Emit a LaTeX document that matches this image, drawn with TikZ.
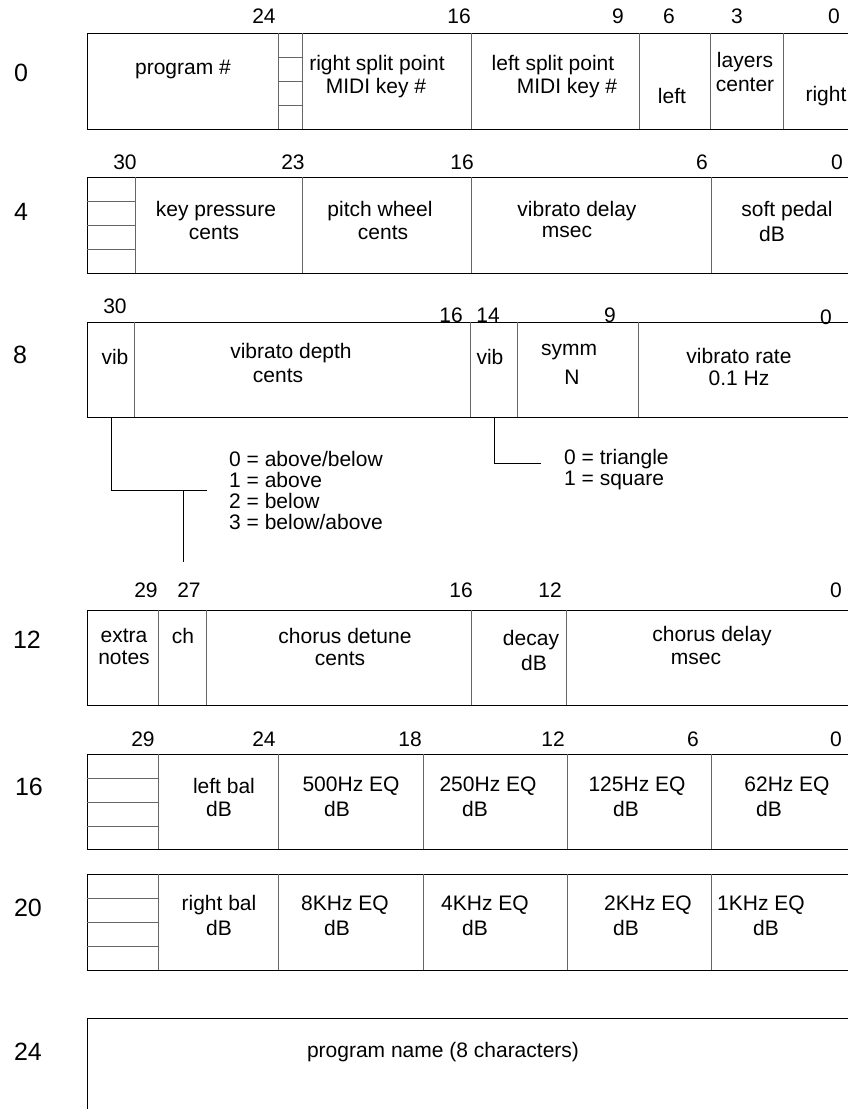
\documentclass[tikz,border=0pt]{standalone}
\usepackage{fontspec}
\setmainfont{Liberation Sans}
\tikzset{
  frame/.style={draw=black, line width=1pt},
  cut/.style={draw=black!60, line width=0.8pt},
  txt/.style={inner sep=0pt, font=\fontsize{21}{22}\selectfont},
  bitno/.style={inner sep=0pt, font=\fontsize{21}{22}\selectfont},
  wordno/.style={inner sep=0pt, font=\fontsize{25}{27}\selectfont},
  lead/.style={draw=black, line width=0.8pt}
}

\begin{document}
\begin{tikzpicture}[x=1pt, y=-1pt]
\useasboundingbox (0,0) rectangle (847,1109);
% Word 0
\node[wordno] (w0) at (21,73) {0};
\node[bitno] (w0b24) at (264,16) {24}; \node[bitno] (w0b16) at (459,16) {16};
\node[bitno] (w0b9) at (618,16) {9}; \node[bitno] (w0b6) at (669,16) {6};
\node[bitno] (w0b3) at (737,16) {3}; \node[bitno] (w0b0) at (834,16) {0};
\draw[frame] (87,33) rectangle (860,129);
\foreach \x in {278,302,471,639,710,783} \draw[cut] (\x,33) -- (\x,129);
\foreach \y in {57,81,105} \draw[cut] (278,\y) -- (302,\y);
\node[txt] (prog) at (183,69) {program \#};
\node[txt] (rsplit) at (377,65) {right split point}; \node[txt] (rkey) at (376,88) {MIDI key \#};
\node[txt] (lsplit) at (553,65) {left split point}; \node[txt] (lkey) at (567,88) {MIDI key \#};
\node[txt] (left) at (672,96) {left};
\node[txt] (layers) at (745,62) {layers}; \node[txt] (center) at (745,85) {center};
\node[txt] (right) at (826,96) {right};

% Word 4
\node[wordno] (w4) at (21,212) {4};
\node[bitno] (w4b30) at (125,162) {30}; \node[bitno] (w4b23) at (293,162) {23};
\node[bitno] (w4b16) at (462,162) {16}; \node[bitno] (w4b6) at (702,162) {6};
\node[bitno] (w4b0) at (837,162) {0};
\draw[frame] (87,177) rectangle (860,273);
\foreach \x in {135,302,471,711} \draw[cut] (\x,177) -- (\x,273);
\foreach \y in {201,225,249} \draw[cut] (87,\y) -- (135,\y);
\node[txt] (keyp) at (216,211) {key pressure}; \node[txt] (keypu) at (214,233) {cents};
\node[txt] (pwheel) at (380,211) {pitch wheel}; \node[txt] (pwheelu) at (383,233) {cents};
\node[txt] (vdelay) at (577,211) {vibrato delay}; \node[txt] (vdelayu) at (567,232) {msec};
\node[txt] (soft) at (787,211) {soft pedal}; \node[txt] (softu) at (772,234) {dB};

% Word 8
\node[wordno] (w8) at (20,355) {8};
\node[bitno] (w8b30) at (115,306) {30}; \node[bitno] (w8b16) at (451,315) {16};
\node[bitno] (w8b14) at (488,315) {14}; \node[bitno] (w8b9) at (610,315) {9};
\node[bitno] (w8b0) at (826,317) {0};
\draw[frame] (87,322) rectangle (860,417);
\foreach \x in {134,470,517,638} \draw[cut] (\x,322) -- (\x,417);
\node[txt] (vibmode) at (115,357) {vib};
\node[txt] (vdepth) at (291,353) {vibrato depth}; \node[txt] (vdepthu) at (278,376) {cents};
\node[txt] (vibwave) at (490,357) {vib};
\node[txt] (symm) at (569,352) {symm}; \node[txt] (symmu) at (572,377) {N};
\node[txt] (vrate) at (739,356) {vibrato rate}; \node[txt] (vrateu) at (739,378) {0.1 Hz};
\coordinate (modefoot) at (111,417); \coordinate (modeend) at (207,490);
\coordinate (modejoin) at (183,490); \coordinate (modetail) at (183,562);
\coordinate (wavefoot) at (494,417); \coordinate (waveend) at (541,463);
\draw[lead] (modefoot) |- (modeend);
\draw[lead] (modejoin) -- (modetail);
\draw[lead] (wavefoot) |- (waveend);
\node[txt, anchor=west] (mode0) at (229,459) {0 = above/below};
\node[txt, anchor=west] (mode1) at (229,480) {1 = above};
\node[txt, anchor=west] (mode2) at (229,501) {2 = below};
\node[txt, anchor=west] (mode3) at (229,522) {3 = below/above};
\node[txt, anchor=west] (wave0) at (564,459) {0 = triangle};
\node[txt, anchor=west] (wave1) at (564,480) {1 = square};

% Word 12
\node[wordno] (w12) at (27,640) {12};
\node[bitno] (w12b29) at (146,590) {29}; \node[bitno] (w12b27) at (189,590) {27};
\node[bitno] (w12b16) at (461,590) {16}; \node[bitno] (w12b12) at (550,590) {12};
\node[bitno] (w12b0) at (836,590) {0};
\draw[frame] (87,610) rectangle (860,705);
\foreach \x in {158,206,471,566} \draw[cut] (\x,610) -- (\x,705);
\node[txt] (extra) at (124,636) {extra}; \node[txt] (notes) at (124,658) {notes};
\node[txt] (ch) at (183,636) {ch};
\node[txt] (cdetune) at (345,636) {chorus detune}; \node[txt] (cdetuneu) at (340,659) {cents};
\node[txt] (decay) at (531,640) {decay}; \node[txt] (decayu) at (534,663) {dB};
\node[txt] (cdelay) at (712,636) {chorus delay}; \node[txt] (cdelayu) at (696,659) {msec};

% Word 16
\node[wordno] (w16) at (29,787) {16};
\node[bitno] (w16b29) at (143,739) {29}; \node[bitno] (w16b24) at (264,739) {24};
\node[bitno] (w16b18) at (410,739) {18}; \node[bitno] (w16b12) at (553,739) {12};
\node[bitno] (w16b6) at (693,739) {6}; \node[bitno] (w16b0) at (836,739) {0};
\draw[frame] (87,754) rectangle (860,849);
\foreach \x in {158,278,423,567,711} \draw[cut] (\x,754) -- (\x,849);
\foreach \y in {778,802,826} \draw[cut] (87,\y) -- (158,\y);
\node[txt] (lbal) at (224,786) {left bal}; \node[txt] (lbalu) at (219,809) {dB};
\node[txt] (eqa) at (351,786) {500Hz EQ}; \node[txt] (eqau) at (337,809) {dB};
\node[txt] (eqb) at (488,786) {250Hz EQ}; \node[txt] (eqbu) at (475,809) {dB};
\node[txt] (eqc) at (637,786) {125Hz EQ}; \node[txt] (eqcu) at (626,809) {dB};
\node[txt] (eqd) at (787,786) {62Hz EQ}; \node[txt] (eqdu) at (769,809) {dB};

% Word 20
\node[wordno] (w20) at (28,908) {20};
\draw[frame] (87,874) rectangle (860,970);
\foreach \x in {158,278,423,567,711} \draw[cut] (\x,874) -- (\x,970);
\foreach \y in {898,922,946} \draw[cut] (87,\y) -- (158,\y);
\node[txt] (rbal) at (219,905) {right bal}; \node[txt] (rbalu) at (219,928) {dB};
\node[txt] (eqe) at (345,905) {8KHz EQ}; \node[txt] (equ) at (337,928) {dB};
\node[txt] (eqf) at (485,905) {4KHz EQ}; \node[txt] (eqfu) at (475,928) {dB};
\node[txt] (eqg) at (648,905) {2KHz EQ}; \node[txt] (eqgu) at (626,928) {dB};
\node[txt] (eqh) at (761,905) {1KHz EQ}; \node[txt] (eqhu) at (766,928) {dB};

% Word 24
\node[wordno] (w24) at (28,1052) {24};
\draw[frame] (87,1018) rectangle (860,1130);
\node[txt] (pname) at (443,1052) {program name (8 characters)};
\end{tikzpicture}
\end{document}
